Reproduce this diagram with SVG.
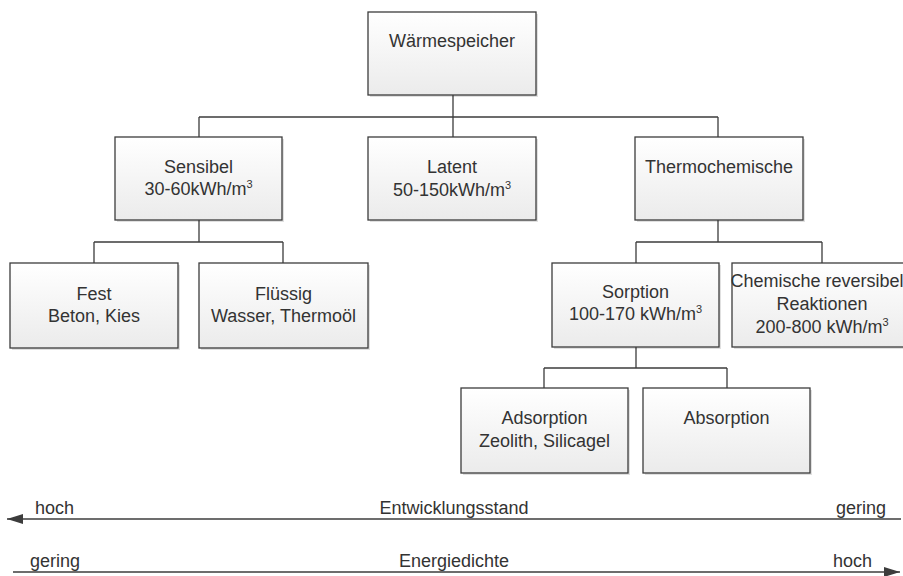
<svg xmlns="http://www.w3.org/2000/svg" width="903" height="576" viewBox="0 0 903 576">
<style>
.box{fill:url(#g);stroke:#3c3c3c;stroke-width:1.3}
.sh{fill:#000;opacity:0.12}
.t{font-family:"Liberation Sans",Arial,sans-serif;font-size:18px;fill:#333;text-anchor:middle}
.b{font-family:"Liberation Sans",Arial,sans-serif;font-size:18px;fill:#333}
.c{fill:none;stroke:#3c3c3c;stroke-width:1.3}
.a{fill:none;stroke:#3c3c3c;stroke-width:1.6}
</style>
<defs>
<linearGradient id="g" x1="0" y1="0" x2="0" y2="1">
<stop offset="0" stop-color="#ffffff"/>
<stop offset="1" stop-color="#ebebeb"/>
</linearGradient>
<marker id="ah2" viewBox="0 0 16 10" refX="16" refY="5" markerWidth="16" markerHeight="10" markerUnits="userSpaceOnUse" orient="auto">
<path d="M0,0 L16,5 L0,10 z" fill="#3c3c3c"/>
</marker>
</defs>
<rect width="903" height="576" fill="#fff"/>
<g id="connectors">
<path class="c" d="M453,95 V117 M199,117 H718 M199,117 V137 M453,117 V137 M718,117 V137"/>
<path class="c" d="M199,220 V242 M94,242 H283 M94,242 V263 M283,242 V263"/>
<path class="c" d="M718,220 V242 M636,242 H822 M636,242 V263 M822,242 V263"/>
<path class="c" d="M636,347 V368 M544,368 H727 M544,368 V388 M727,368 V388"/>
</g>
<g id="n-waermespeicher">
<rect class="sh" x="370" y="14" width="168" height="83"/>
<rect class="box" x="368" y="12" width="168" height="83"/>
<text class="t" x="452" y="47">Wärmespeicher</text>
</g>
<g id="n-sensibel">
<rect class="sh" x="117" y="139" width="167" height="83"/>
<rect class="box" x="115" y="137" width="167" height="83"/>
<text class="t" x="198.5" y="173">Sensibel</text>
<text class="t" x="198.5" y="195">30-60kWh/m<tspan font-size="11" dy="-7">3</tspan></text>
</g>
<g id="n-latent">
<rect class="sh" x="370" y="139" width="168" height="83"/>
<rect class="box" x="368" y="137" width="168" height="83"/>
<text class="t" x="452" y="173">Latent</text>
<text class="t" x="452" y="196">50-150kWh/m<tspan font-size="11" dy="-7">3</tspan></text>
</g>
<g id="n-thermochemische">
<rect class="sh" x="637" y="139" width="168" height="83"/>
<rect class="box" x="635" y="137" width="168" height="83"/>
<text class="t" x="719" y="173">Thermochemische</text>
</g>
<g id="n-fest">
<rect class="sh" x="12" y="265" width="168" height="85"/>
<rect class="box" x="10" y="263" width="168" height="85"/>
<text class="t" x="94" y="300">Fest</text>
<text class="t" x="94" y="322">Beton, Kies</text>
</g>
<g id="n-fluessig">
<rect class="sh" x="201" y="265" width="169" height="85"/>
<rect class="box" x="199" y="263" width="169" height="85"/>
<text class="t" x="283.5" y="300">Flüssig</text>
<text class="t" x="283.5" y="322">Wasser, Thermoöl</text>
</g>
<g id="n-sorption">
<rect class="sh" x="554" y="265" width="167" height="84"/>
<rect class="box" x="552" y="263" width="167" height="84"/>
<text class="t" x="635.5" y="298">Sorption</text>
<text class="t" x="635.5" y="320">100-170 kWh/m<tspan font-size="11" dy="-7">3</tspan></text>
</g>
<g id="n-chemische">
<rect class="sh" x="734" y="265" width="180" height="84"/>
<rect class="box" x="732" y="263" width="180" height="84"/>
<text class="t" x="817" y="287" font-size="17">Chemische reversibel</text>
<text class="t" x="822" y="310">Reaktionen</text>
<text class="t" x="822" y="333">200-800 kWh/m<tspan font-size="11" dy="-7">3</tspan></text>
</g>
<g id="n-adsorption">
<rect class="sh" x="463" y="390" width="167" height="85"/>
<rect class="box" x="461" y="388" width="167" height="85"/>
<text class="t" x="544.5" y="424">Adsorption</text>
<text class="t" x="544.5" y="447">Zeolith, Silicagel</text>
</g>
<g id="n-absorption">
<rect class="sh" x="645" y="390" width="167" height="85"/>
<rect class="box" x="643" y="388" width="167" height="85"/>
<text class="t" x="726.5" y="424">Absorption</text>
</g>
<g id="axes">
<line class="a" x1="901" y1="519" x2="7" y2="519" marker-end="url(#ah2)"/>
<text class="b" x="35" y="514">hoch</text>
<text class="t" x="454" y="514">Entwicklungsstand</text>
<text class="b" x="886" y="514" text-anchor="end">gering</text>
<line class="a" x1="13" y1="572" x2="900" y2="572" marker-end="url(#ah2)"/>
<text class="b" x="30" y="567">gering</text>
<text class="t" x="454" y="567">Energiedichte</text>
<text class="b" x="872" y="567" text-anchor="end">hoch</text>
</g>
</svg>
